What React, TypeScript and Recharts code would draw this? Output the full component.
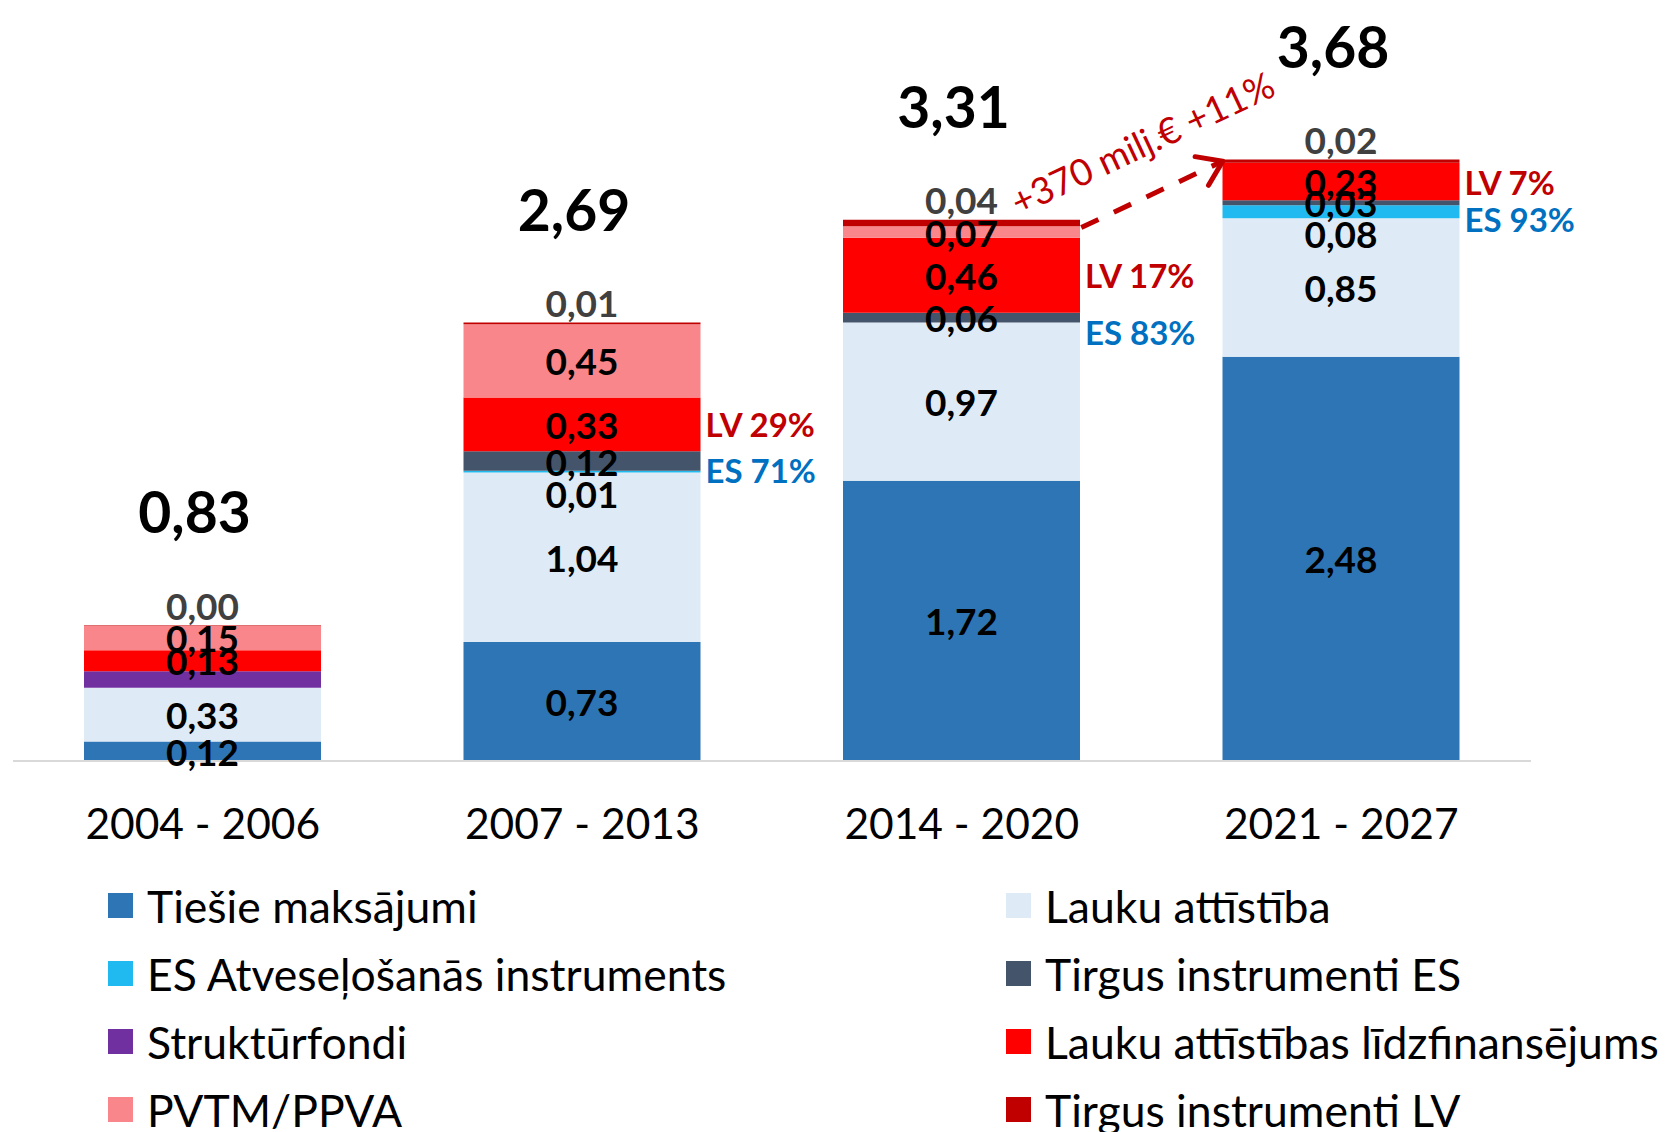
import React from 'react';
import { BarChart, Bar, XAxis, YAxis, LabelList, ReferenceLine, Legend } from 'recharts';

const periods = ['2004 - 2006', '2007 - 2013', '2014 - 2020', '2021 - 2027'];
const tiesie = [0.12, 0.73, 1.72, 2.48];
const laukuAttistiba = [0.33, 1.04, 0.97, 0.85];
const esAtveselosanas = [0, 0.01, 0, 0.08];
const tirgusES = [0, 0.12, 0.06, 0.03];
const strukturfondi = [0.1, 0, 0, 0];
const laukuLidzfin = [0.13, 0.33, 0.46, 0.23];
const pvtm = [0.15, 0.45, 0.07, 0];
const tirgusLV = [0.003, 0.01, 0.04, 0.02];
const totals = [0.83, 2.69, 3.31, 3.68];
const lvShare = [null, 29, 17, 7];
const esShare = [null, 71, 83, 93];
const changeText = '+370 milj.€ +11%';

const seriesOrder = [
  'Tiešie maksājumi',
  'Lauku attīstība',
  'ES Atveseļošanās instruments',
  'Tirgus instrumenti ES',
  'Struktūrfondi',
  'Lauku attīstības līdzfinansējums',
  'PVTM/PPVA',
  'Tirgus instrumenti LV',
];

const colors = {
  tiesie: '#2E75B6',
  laukuAttistiba: '#DEEBF7',
  esAtveselosanas: '#20BAF0',
  tirgusES: '#44546A',
  strukturfondi: '#7030A0',
  laukuLidzfin: '#FF0000',
  pvtm: '#F9868A',
  tirgusLV: '#C00000',
};

const data = periods.map((period, i) => ({
  period,
  tiesie: tiesie[i],
  laukuAttistiba: laukuAttistiba[i],
  esAtveselosanas: esAtveselosanas[i],
  tirgusES: tirgusES[i],
  strukturfondi: strukturfondi[i],
  laukuLidzfin: laukuLidzfin[i],
  pvtm: pvtm[i],
  tirgusLV: tirgusLV[i],
}));

const FONT = 'Lato, "Open Sans", sans-serif';
const BAR_SIZE = 237;

const fmt = (v: number) => v.toFixed(2).replace('.', ',');

const box = (p: any) => {
  const v = p.viewBox && p.viewBox.width !== undefined ? p.viewBox : p;
  return { x: Number(v.x), y: Number(v.y), w: Number(v.width), h: Number(v.height) };
};

const valueOf = (p: any) => {
  const v = p.value;
  if (Array.isArray(v)) return Number(v[1]) - Number(v[0]);
  return Number(v);
};

const segStyle: React.CSSProperties = { fontFamily: FONT, fontWeight: 700, fontSize: 37 };

const makeSegmentLabel = (dy = 0) => (props: any) => {
  const v = valueOf(props);
  if (!v) return null;
  const b = box(props);
  return (
    <text x={b.x + b.w / 2} y={b.y + b.h / 2 + dy} textAnchor="middle" dominantBaseline="central" fill="#000" style={segStyle}>
      {fmt(v)}
    </text>
  );
};

const redLabel = (props: any) => {
  const i = props.index;
  const b = box(props);
  const v = valueOf(props);
  const lv = lvShare[i];
  const es = esShare[i];
  return (
    <g>
      <text x={b.x + b.w / 2} y={b.y + b.h / 2} textAnchor="middle" dominantBaseline="central" fill="#000" style={segStyle}>
        {fmt(v)}
      </text>
      {lv != null && (
        <text x={b.x + b.w + 5} y={b.y + b.h / 2} dominantBaseline="central" fill="#C00000" style={{ fontFamily: FONT, fontWeight: 700, fontSize: 33 }}>
          {`LV ${lv}%`}
        </text>
      )}
      {es != null && (
        <text x={b.x + b.w + 5} y={b.y + b.h + 19} dominantBaseline="central" fill="#0070C0" style={{ fontFamily: FONT, fontWeight: 700, fontSize: 33 }}>
          {`ES ${es}%`}
        </text>
      )}
    </g>
  );
};

const topLabel = (props: any) => {
  const i = props.index;
  const b = box(props);
  const cx = b.x + b.w / 2;
  return (
    <g>
      <text x={cx} y={b.y - 20} textAnchor="middle" dominantBaseline="central" fill="#404040" style={segStyle}>
        {fmt(valueOf(props))}
      </text>
      <text x={cx - 8} y={b.y - 114} textAnchor="middle" dominantBaseline="central" fill="#000" style={{ fontFamily: FONT, fontWeight: 700, fontSize: 57 }}>
        {fmt(totals[i])}
      </text>
    </g>
  );
};

const ArrowShape = (props: any) => {
  const x1 = props.x1 + BAR_SIZE / 2 + 1;
  const y1 = props.y1 + 6;
  const x2 = props.x2 - BAR_SIZE / 2;
  const y2 = props.y2;
  const dx = x2 - x1;
  const dy = y2 - y1;
  const len = Math.sqrt(dx * dx + dy * dy);
  const ux = dx / len;
  const uy = dy / len;
  const ang = Math.atan2(dy, dx);
  const wing = 28;
  const rot = (a: number) => ({
    x: x2 - wing * (ux * Math.cos(a) - uy * Math.sin(a)),
    y: y2 - wing * (ux * Math.sin(a) + uy * Math.cos(a)),
  });
  const w1 = rot(0.6);
  const w2 = rot(-0.6);
  const mx = (x1 + x2) / 2 - 10;
  const my = (y1 + y2) / 2 - 52;
  return (
    <g>
      <line x1={x1} y1={y1} x2={x2 - ux * 4} y2={y2 - uy * 4} stroke="#C00000" strokeWidth={5} strokeDasharray="19 17" />
      <polyline points={`${w1.x},${w1.y} ${x2},${y2} ${w2.x},${w2.y}`} fill="none" stroke="#C00000" strokeWidth={5} strokeLinecap="round" strokeLinejoin="round" />
      <text x={mx} y={my} textAnchor="middle" dominantBaseline="central" fill="#C00000" transform={`rotate(${(ang * 180) / Math.PI} ${mx} ${my})`} style={{ fontFamily: FONT, fontSize: 37 }}>
        {changeText}
      </text>
    </g>
  );
};

const LegendContent = (props: any) => {
  const payload = [...(props.payload || [])].sort(
    (a: any, b: any) => seriesOrder.indexOf(a.value) - seriesOrder.indexOf(b.value)
  );
  return (
    <div style={{ position: 'relative', width: 1667, height: 272 }}>
      {payload.map((item: any, i: number) => {
        const col = i % 2;
        const row = Math.floor(i / 2);
        const cy = 35 + row * 68.3;
        return (
          <div key={item.value} style={{ position: 'absolute', left: col === 0 ? 108 : 1006, top: cy - 30, height: 60, display: 'flex', alignItems: 'center', whiteSpace: 'nowrap' }}>
            <div style={{ width: 25, height: 25, background: item.color, marginRight: 14 }} />
            <span style={{ fontFamily: FONT, fontSize: 44.5, color: '#000' }}>{item.value}</span>
          </div>
        );
      })}
    </div>
  );
};

export default function App() {
  return (
    <div style={{ position: 'absolute', left: 0, top: 0, width: 1667, height: 1132, background: '#fff', overflow: 'hidden' }}>
      <BarChart width={1667} height={1132} data={data} margin={{ top: 109, right: 136, left: 13, bottom: 291 }}>
        <XAxis
          dataKey="period"
          height={80}
          axisLine={{ stroke: '#D9D9D9', strokeWidth: 2 }}
          tickLine={false}
          tickMargin={42}
          interval={0}
          tick={{ fontFamily: FONT, fontSize: 42.5, fill: '#000' }}
        />
        <YAxis hide domain={[0, 4]} />
        <Legend
          layout="horizontal"
          verticalAlign="middle"
          align="center"
          wrapperStyle={{ left: 0, top: 870, width: 1667, height: 272 }}
          content={<LegendContent />}
        />
        <Bar dataKey="tiesie" name={seriesOrder[0]} stackId="a" fill={colors.tiesie} barSize={BAR_SIZE} isAnimationActive={false}>
          <LabelList dataKey="tiesie" content={makeSegmentLabel()} />
        </Bar>
        <Bar dataKey="laukuAttistiba" name={seriesOrder[1]} stackId="a" fill={colors.laukuAttistiba} barSize={BAR_SIZE} isAnimationActive={false}>
          <LabelList dataKey="laukuAttistiba" content={makeSegmentLabel()} />
        </Bar>
        <Bar dataKey="esAtveselosanas" name={seriesOrder[2]} stackId="a" fill={colors.esAtveselosanas} barSize={BAR_SIZE} isAnimationActive={false}>
          <LabelList dataKey="esAtveselosanas" content={makeSegmentLabel(22)} />
        </Bar>
        <Bar dataKey="tirgusES" name={seriesOrder[3]} stackId="a" fill={colors.tirgusES} barSize={BAR_SIZE} isAnimationActive={false}>
          <LabelList dataKey="tirgusES" content={makeSegmentLabel()} />
        </Bar>
        <Bar dataKey="strukturfondi" name={seriesOrder[4]} stackId="a" fill={colors.strukturfondi} barSize={BAR_SIZE} isAnimationActive={false} />
        <Bar dataKey="laukuLidzfin" name={seriesOrder[5]} stackId="a" fill={colors.laukuLidzfin} barSize={BAR_SIZE} isAnimationActive={false}>
          <LabelList dataKey="laukuLidzfin" content={redLabel} />
        </Bar>
        <Bar dataKey="pvtm" name={seriesOrder[6]} stackId="a" fill={colors.pvtm} barSize={BAR_SIZE} isAnimationActive={false}>
          <LabelList dataKey="pvtm" content={makeSegmentLabel()} />
        </Bar>
        <Bar dataKey="tirgusLV" name={seriesOrder[7]} stackId="a" fill={colors.tirgusLV} barSize={BAR_SIZE} isAnimationActive={false}>
          <LabelList dataKey="tirgusLV" content={topLabel} />
        </Bar>
        <ReferenceLine
          segment={[
            { x: periods[2], y: totals[2] },
            { x: periods[3], y: totals[3] },
          ]}
          ifOverflow="visible"
          shape={ArrowShape}
        />
      </BarChart>
    </div>
  );
}
